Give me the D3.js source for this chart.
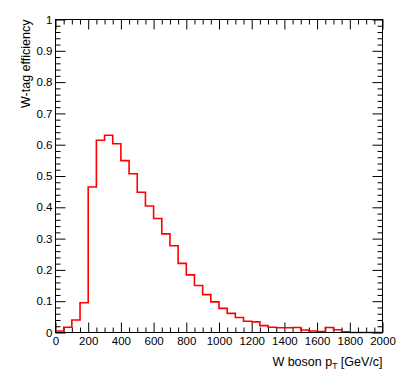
<!DOCTYPE html>
<html>
<head>
<meta charset="utf-8">
<script src="https://cdn.jsdelivr.net/npm/d3@7"></script>
<style>
  html, body { margin: 0; padding: 0; background: #fff; }
  svg { display: block; font-family: "Liberation Sans", Arial, Helvetica, sans-serif; }
  .axis path { display: none; }
  .axis line { stroke: #000; stroke-width: 1; }
  .axis text { font-size: 11.5px; fill: #000; }
</style>
</head>
<body>
<div id="chart"></div>
<script>
const WIDTH = 399
const HEIGHT = 383

const PLOT = { left: 55.5, right: 382.5, top: 19.5, bottom: 332.5 }

const MAJOR_TICK = 10
const MINOR_TICK = 5

// pT binning: 40 bins of 50 GeV from 0 to 2000
const BIN_WIDTH = 50
const X_RANGE = [0, 2000]

// W-tag efficiency per pT bin
const efficiency = [
  0.005, 0.017, 0.040, 0.095, 0.465, 0.614, 0.630, 0.603, 0.549, 0.507,
  0.448, 0.404, 0.364, 0.315, 0.277, 0.221, 0.184, 0.150, 0.121, 0.098,
  0.077, 0.061, 0.048, 0.036, 0.034, 0.022, 0.017, 0.015, 0.015, 0.016,
  0.008, 0.005, 0.003, 0.016, 0.009, 0.002, 0.000, 0.000, 0.000, 0.000
]

const xMajorTicks = [0, 200, 400, 600, 800, 1000, 1200, 1400, 1600, 1800, 2000]
const yMajorTicks = [0, 0.1, 0.2, 0.3, 0.4, 0.5, 0.6, 0.7, 0.8, 0.9, 1]
const yTickLabels = ['0', '0.1', '0.2', '0.3', '0.4', '0.5', '0.6', '0.7', '0.8', '0.9', '1']

const svg = d3.select('#chart')
  .append('svg')
  .attr('width', WIDTH)
  .attr('height', HEIGHT)

const x = d3.scaleLinear().domain(X_RANGE).range([PLOT.left, PLOT.right])
const y = d3.scaleLinear().domain([0, 1]).range([PLOT.bottom, PLOT.top])

const xMinor = d3.range(X_RANGE[0], X_RANGE[1] + 1, 50).filter(v => v % 200 !== 0)
const yMinor = d3.range(0, 51, 1).map(v => v / 50).filter((v, i) => i % 5 !== 0)

const plotW = PLOT.right - PLOT.left
const plotH = PLOT.bottom - PLOT.top

// Ticks on all four sides, pointing into the frame (ROOT style)
function addAxis(axis, transform, labelled) {
  const g = svg.append('g')
    .attr('class', 'axis')
    .attr('transform', transform)
    .call(axis)
  if (!labelled) g.selectAll('text').remove()
  return g
}

// bottom
addAxis(d3.axisBottom(x).tickValues(xMajorTicks).tickSize(-MAJOR_TICK).tickPadding(4)
  .tickFormat(d3.format('d')), `translate(0,${PLOT.bottom})`, true)
addAxis(d3.axisBottom(x).tickValues(xMinor).tickSize(-MINOR_TICK),
  `translate(0,${PLOT.bottom})`, false)
// top
addAxis(d3.axisTop(x).tickValues(xMajorTicks).tickSize(-MAJOR_TICK),
  `translate(0,${PLOT.top})`, false)
addAxis(d3.axisTop(x).tickValues(xMinor).tickSize(-MINOR_TICK),
  `translate(0,${PLOT.top})`, false)
// left
addAxis(d3.axisLeft(y).tickValues(yMajorTicks).tickSize(-MAJOR_TICK).tickPadding(3)
  .tickFormat((d, i) => yTickLabels[i]), `translate(${PLOT.left},0)`, true)
addAxis(d3.axisLeft(y).tickValues(yMinor).tickSize(-MINOR_TICK),
  `translate(${PLOT.left},0)`, false)
// right
addAxis(d3.axisRight(y).tickValues(yMajorTicks).tickSize(-MAJOR_TICK),
  `translate(${PLOT.right},0)`, false)
addAxis(d3.axisRight(y).tickValues(yMinor).tickSize(-MINOR_TICK),
  `translate(${PLOT.right},0)`, false)

// Histogram outline
const points = efficiency.map((v, i) => [i * BIN_WIDTH, v])
points.push([X_RANGE[1], efficiency[efficiency.length - 1]])

svg.append('path')
  .attr('d', d3.line()
    .x(d => x(d[0]))
    .y(d => y(d[1]))
    .curve(d3.curveStepAfter)(points))
  .attr('fill', 'none')
  .attr('stroke', '#ff0000')
  .attr('stroke-width', 1.6)

// Frame
svg.append('rect')
  .attr('x', PLOT.left)
  .attr('y', PLOT.top)
  .attr('width', plotW)
  .attr('height', plotH)
  .attr('fill', 'none')
  .attr('stroke', '#000')
  .attr('stroke-width', 1)

// Axis titles
const xTitle = svg.append('text')
  .attr('x', PLOT.right)
  .attr('y', 366)
  .attr('text-anchor', 'end')
  .attr('font-size', 12.5)
xTitle.append('tspan').text('W boson p')
xTitle.append('tspan').attr('dy', 3).attr('font-size', 8.5).text('T')
xTitle.append('tspan').attr('dy', -3).text(' [GeV/c]')

svg.append('text')
  .attr('transform', `translate(30,${PLOT.top}) rotate(-90)`)
  .attr('text-anchor', 'end')
  .attr('font-size', 12.5)
  .text('W-tag efficiency')
</script>
</body>
</html>
